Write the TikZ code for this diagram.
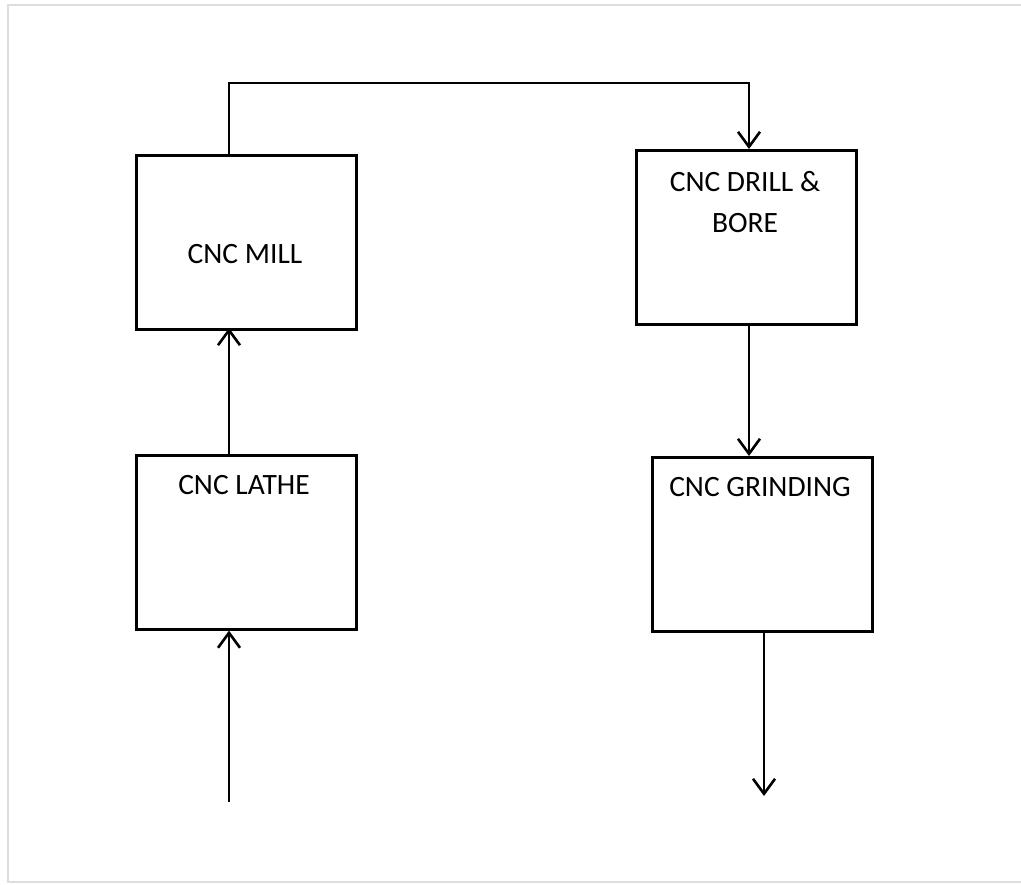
\documentclass[tikz,border=0pt]{standalone}
\usepackage{fontspec}
\setmainfont{Carlito}
\usetikzlibrary{arrows.meta}
\tikzset{
  stagebox/.style={draw=black, line width=2.6pt, minimum width=220pt, minimum height=174pt, inner sep=0pt, anchor=north west},
  lbl/.style={font=\fontsize{29.5}{40}\selectfont, align=center, inner sep=0pt},
  flow/.style={draw=black, line width=2.6pt, -{Straight Barb[length=15pt, width=22pt, line width=2.6pt]}},
  framestyle/.style={draw=black!13, line width=2pt}
}
\begin{document}
\begin{tikzpicture}[x=1pt, y=-1pt]
\useasboundingbox (0,0) rectangle (1021,885);
% frame
\draw[framestyle] (1021,5) -- (8,5) -- (8,882) -- (1021,882);
% boxes
\node[stagebox] (mill) at (135,154) {};
\node[stagebox] (lathe) at (135,454) {};
\node[stagebox] (drill) at (635,149) {};
\node[stagebox] (grind) at (651,456) {};
% labels
\node[lbl] (tmill) at (245,254) {CNC MILL};
\node[lbl] (tlathe) at (244,485) {CNC LATHE};
\node[lbl, align=center] (tdrill) at (745,202) {CNC DRILL \&\\[1pt]BORE};
\node[lbl] (tgrind) at (760,487) {CNC GRINDING};
% connectors
\coordinate (in) at (229,802);
\coordinate (millTop) at (229,154);
\coordinate (drillTop) at (749,149);
\coordinate (out) at (764,796);
\draw[flow] (in) -- (in |- lathe.south);
\draw[flow] (229,454) -- (229,328);
\draw[flow] (millTop) -- (229,83) -- (749,83) -- (drillTop);
\draw[flow] (749,323) -- (749,456);
\draw[flow] (764,630) -- (out);
\end{tikzpicture}
\end{document}
